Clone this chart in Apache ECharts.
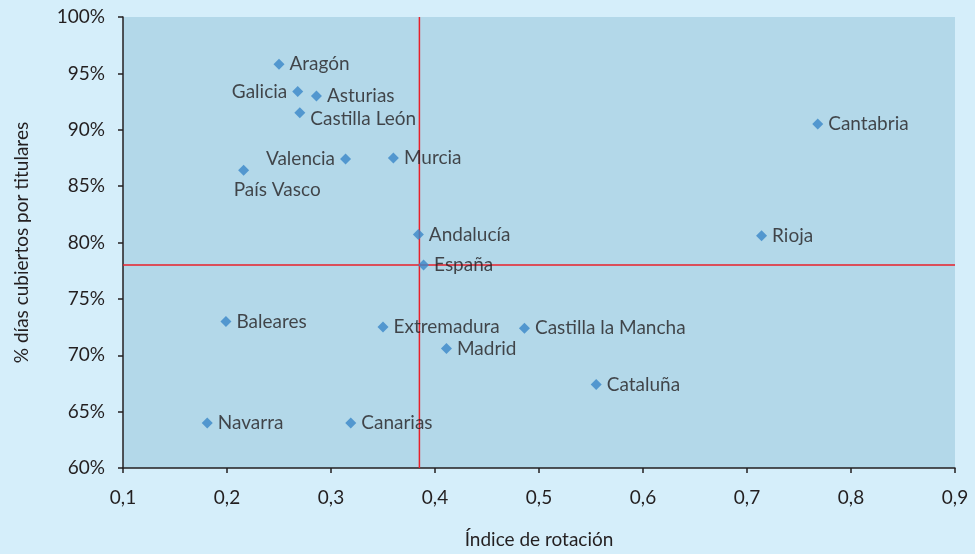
<!DOCTYPE html>
<html>
<head>
<meta charset="utf-8">
<script src="https://cdn.jsdelivr.net/npm/echarts@6/dist/echarts.min.js"></script>
<style>
  html, body { margin: 0; padding: 0; background: #d5eefa; }
  #chart { width: 975px; height: 554px; }
</style>
</head>
<body>
<div id="chart"></div>
<script>
// Comunidades autónomas: índice de rotación vs % días cubiertos por titulares
const regions = ['Aragón', 'Galicia', 'Asturias', 'Castilla León', 'Valencia', 'Murcia',
  'País Vasco', 'Cantabria', 'Andalucía', 'España', 'Rioja', 'Baleares', 'Extremadura',
  'Castilla la Mancha', 'Madrid', 'Cataluña', 'Navarra', 'Canarias'];
const rotation = [0.250, 0.268, 0.286, 0.270, 0.314, 0.360,
  0.216, 0.768, 0.384, 0.389, 0.714, 0.199, 0.350,
  0.486, 0.411, 0.555, 0.181, 0.319];
const covered = [95.8, 93.4, 93.0, 91.5, 87.4, 87.5,
  86.4, 90.5, 80.7, 78.0, 80.6, 73.0, 72.5,
  72.4, 70.6, 67.4, 64.0, 64.0];
// Reference lines (national averages)
const refRotation = 0.385;
const refCovered = 78.0;
const xTicks = { min: 0.1, max: 0.9, step: 0.1 };
const yTicks = { min: 60, max: 100, step: 5 };

// Label placement per point
const labelPlacement = { 'Galicia': 'left', 'Valencia': 'left', 'País Vasco': 'bottom' };
const labelNudge = { 'Castilla León': [0, 6], 'País Vasco': [-10, 0] };

const FONT = 'Lato, "Open Sans", sans-serif';
const INK = '#231f20';
const points = regions.map((n, i) => {
  const pos = labelPlacement[n] || 'right';
  const lbl = { position: pos };
  if (pos === 'bottom') lbl.align = 'left';
  if (labelNudge[n]) lbl.offset = labelNudge[n];
  return { name: n, value: [rotation[i], covered[i]], label: lbl };
});

const chart = echarts.init(document.getElementById('chart'));
chart.setOption({
  backgroundColor: '#d5eefa',
  animation: false,
  grid: {
    left: 123, right: 20, top: 17, bottom: 86,
    show: true, backgroundColor: '#b3d8e9', borderWidth: 0
  },
  xAxis: {
    type: 'value', min: xTicks.min, max: xTicks.max, interval: xTicks.step,
    name: 'Índice de rotación', nameLocation: 'middle', nameGap: 62,
    nameTextStyle: { fontFamily: FONT, fontSize: 19, color: INK },
    axisLine: { show: true, onZero: false, lineStyle: { color: INK, width: 1.5 } },
    axisTick: { show: true, length: 5, lineStyle: { color: INK, width: 1.5 } },
    splitLine: { show: false },
    axisLabel: {
      fontFamily: FONT, fontSize: 19, color: INK, margin: 20,
      formatter: v => v.toFixed(1).replace('.', ',')
    }
  },
  yAxis: {
    type: 'value', min: yTicks.min, max: yTicks.max, interval: yTicks.step,
    name: '% días cubiertos por titulares', nameLocation: 'middle', nameGap: 92,
    nameTextStyle: { fontFamily: FONT, fontSize: 19, color: INK },
    axisLine: { show: true, onZero: false, lineStyle: { color: INK, width: 1.5 } },
    axisTick: { show: true, length: 5, lineStyle: { color: INK, width: 1.5 } },
    splitLine: { show: false },
    axisLabel: {
      fontFamily: FONT, fontSize: 19, color: INK, margin: 18,
      formatter: v => v + '%'
    }
  },
  series: [
    {
      // vertical reference line
      type: 'line', symbol: 'none', silent: true, z: 1,
      lineStyle: { color: '#e8202a', width: 1.5 },
      data: [[refRotation, yTicks.min], [refRotation, yTicks.max]]
    },
    {
      // horizontal reference line
      type: 'line', symbol: 'none', silent: true, z: 1,
      lineStyle: { color: '#e8202a', width: 1.5 },
      data: [[xTicks.min, refCovered], [xTicks.max, refCovered]]
    },
    {
      type: 'scatter',
      symbol: 'diamond',
      symbolSize: 11,
      z: 3,
      itemStyle: { color: '#3a87c8' },
      data: points,
      label: {
        show: true, formatter: '{b}', distance: 5,
        fontFamily: FONT, fontSize: 19, color: INK
      }
    }
  ]
});
</script>
</body>
</html>
